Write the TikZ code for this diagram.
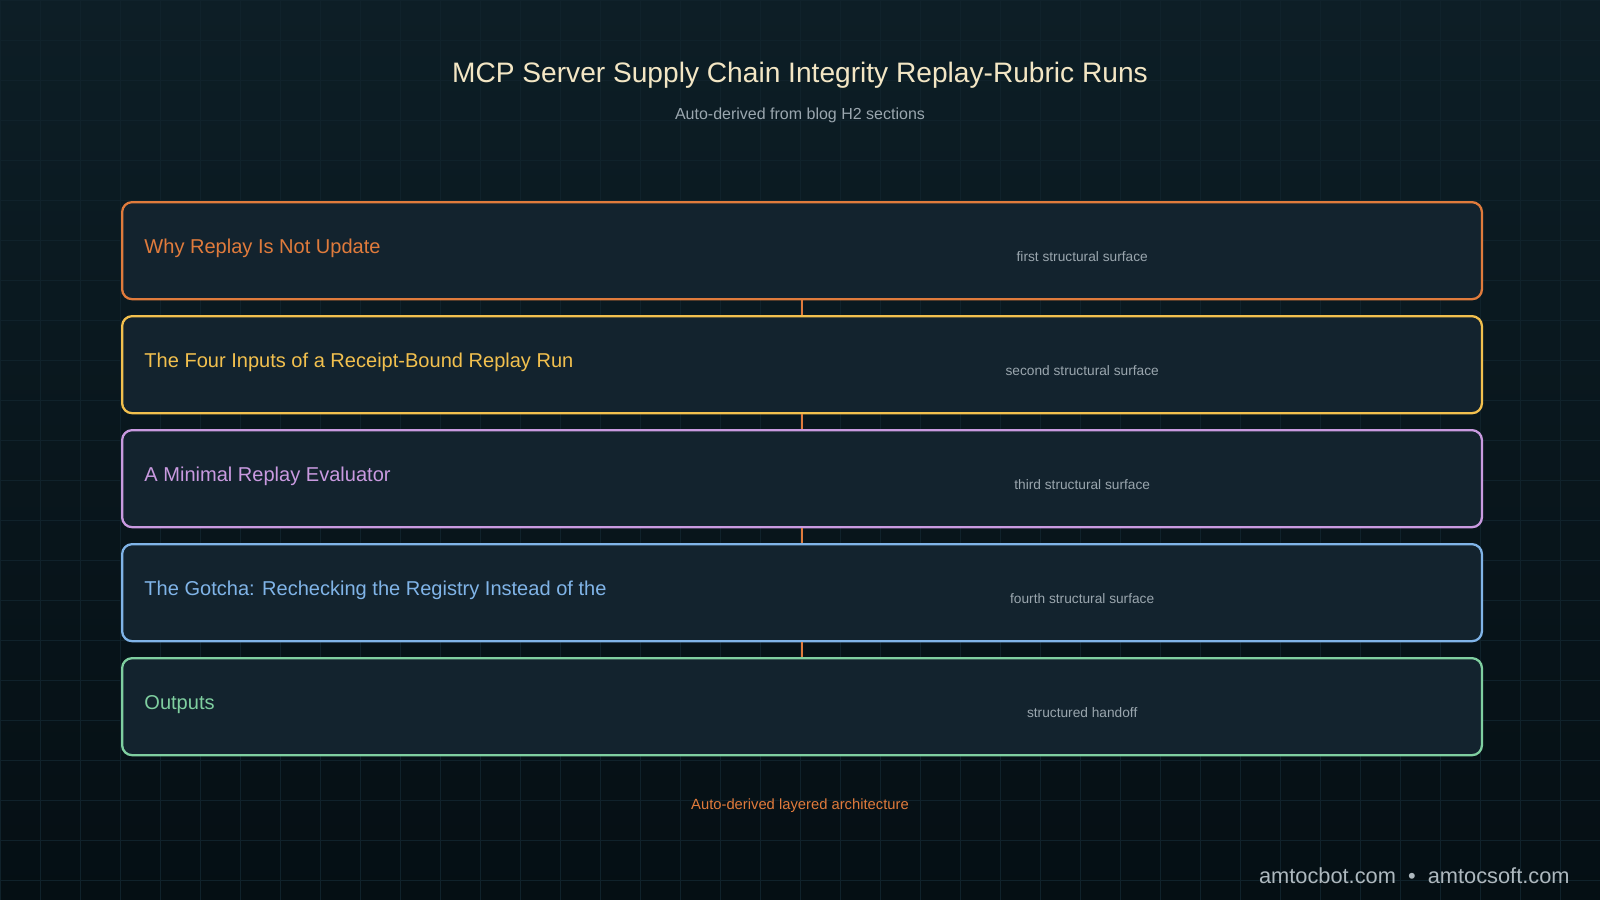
\documentclass[tikz,border=0pt]{standalone}
\usepackage{fontspec}
\setmainfont{Liberation Sans}
\usetikzlibrary{positioning}
\definecolor{bgtop}{HTML}{0D1E26}
\definecolor{bgbot}{HTML}{050F14}
\definecolor{boxfill}{HTML}{13232E}
\definecolor{gridc}{HTML}{10222B}
\definecolor{cOrange}{HTML}{E07B3C}
\definecolor{cYellow}{HTML}{F2C04E}
\definecolor{cPurple}{HTML}{C99AE0}
\definecolor{cBlue}{HTML}{80B4E8}
\definecolor{cGreen}{HTML}{7FCFA0}
\definecolor{cTitle}{HTML}{F3E6C4}
\definecolor{cGrey}{HTML}{9AA6AE}
\tikzset{
  layer/.style={draw=#1, line width=0.65pt, fill=boxfill, rounded corners=0.1cm,
    minimum width=13.59cm, minimum height=0.97cm, anchor=north west},
  layertitle/.style={text=#1, font=\fontsize{5.7}{6.5}\selectfont, anchor=west},
  note/.style={text=cGrey, font=\fontsize{3.9}{5}\selectfont},
  link/.style={draw=cOrange, line width=0.4pt}
}
\begin{document}
\begin{tikzpicture}[x=0.01cm, y=-0.01cm]
  \shade[top color=bgtop, bottom color=bgbot] (0,0) rectangle (1600,900);
  \useasboundingbox (0,0) rectangle (1600,900);
  \foreach \i in {0,40,...,1600} \draw[gridc, line width=0.2pt] (\i,0) -- (\i,900);
  \foreach \j in {0,40,...,900} \draw[gridc, line width=0.2pt] (0,\j) -- (1600,\j);
  % heading
  \node[text=cTitle, font=\fontsize{8}{9.5}\selectfont] (title) at (800,75) {MCP Server Supply Chain Integrity Replay-Rubric Runs};
  \node[text=cGrey, font=\fontsize{4.55}{5.5}\selectfont] (subtitle) at (800,115) {Auto-derived from blog H2 sections};
  % layers
  \foreach \n/\c/\t/\s [count=\k from 0] in {
      L1/cOrange/Why Replay Is Not Update/first structural surface,
      L2/cYellow/The Four Inputs of a Receipt-Bound Replay Run/second structural surface,
      L3/cPurple/A Minimal Replay Evaluator/third structural surface,
      L4/cBlue/The Gotcha: Rechecking the Registry Instead of the/fourth structural surface,
      L5/cGreen/Outputs/structured handoff}{
    \node[layer=\c] (\n) at (121,{201+114*\k}) {};
    \node[layertitle=\c] (\n t) at ([xshift=0.11cm, yshift=0.02cm]\n.west) {\t};
    \node[note] (\n s) at ([xshift=2.8cm, yshift=-0.06cm]\n.center) {\s};
  }
  \foreach \a/\b in {L1/L2,L2/L3,L3/L4,L4/L5}
    \draw[link] (\a.south) -- (\b.north);
  % footer
  \node[text=cOrange, font=\fontsize{4.2}{5}\selectfont] (foot) at (800,806) {Auto-derived layered architecture};
  \node[text=cGrey!80!white, font=\fontsize{6.2}{7.5}\selectfont, anchor=east] (mark) at (1582,876) {amtocbot.com \ \textbullet\ \ amtocsoft.com};
\end{tikzpicture}
\end{document}
